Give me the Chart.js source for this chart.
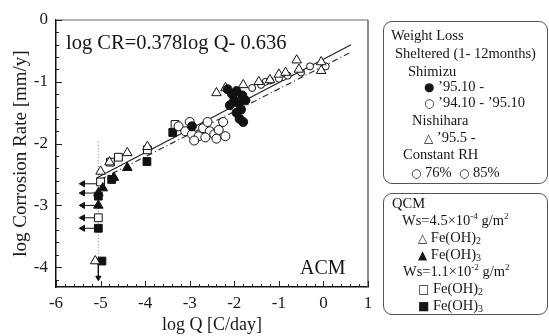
<!DOCTYPE html>
<html>
<head>
<meta charset="utf-8">
<script src="https://cdn.jsdelivr.net/npm/chart.js@4/dist/chart.umd.min.js"></script>
<style>
  html, body { margin: 0; padding: 0; background: #fff; }
  #wrap { position: relative; width: 549px; height: 336px; overflow: hidden; font-family: "Liberation Serif", serif; color: #15151c; }
  #c { position: absolute; left: 0; top: 0; }
  .t { position: absolute; white-space: nowrap; line-height: 1; transform: translateY(-50%); }
  .box { position: absolute; border: 1.5px solid #555; border-radius: 9px; box-sizing: border-box; }
  .lg { font-size: 14.5px; }
  .sym { font-family: "DejaVu Sans", sans-serif; font-size: 12px; }
  .sub { font-size: 10px; position: relative; top: 2px; }
  sup { font-size: 9px; line-height: 0; }
</style>
</head>
<body>
<div id="wrap">
  <canvas id="c" width="549" height="336"></canvas>

  <div class="t" style="left:66px; top:42px; font-size:20.5px;">log CR=0.378log Q- 0.636</div>
  <div class="t" style="left:300px; top:267px; font-size:20px;">ACM</div>

  <div class="box" style="left:383px; top:21px; width:165px; height:163px;"></div>
  <div class="t lg" style="left:391px; top:35px;">Weight Loss</div>
  <div class="t lg" style="left:395px; top:53px;">Sheltered (1- 12months)</div>
  <div class="t lg" style="left:408px; top:71px;">Shimizu</div>
  <div class="t lg" style="left:424px; top:86px;"><span class="sym">●</span> ’95.10 -</div>
  <div class="t lg" style="left:424px; top:102px;"><span class="sym">○</span> ’94.10 - ’95.10</div>
  <div class="t lg" style="left:412px; top:120px;">Nishihara</div>
  <div class="t lg" style="left:424px; top:137px;"><span class="sym">△</span> ’95.5 -</div>
  <div class="t lg" style="left:403px; top:154px;">Constant RH</div>
  <div class="t lg" style="left:411px; top:172px;"><span class="sym">○</span> 76% &nbsp;<span class="sym">○</span> 85%</div>

  <div class="box" style="left:383px; top:193px; width:165px; height:122px;"></div>
  <div class="t lg" style="left:392px; top:203px;">QCM</div>
  <div class="t lg" style="left:402px; top:220px;">Ws=4.5×10<sup>-4</sup> g/m<sup>2</sup></div>
  <div class="t lg" style="left:418px; top:237px;"><span class="sym">△</span> Fe(OH)<span class="sub">2</span></div>
  <div class="t lg" style="left:418px; top:254px;"><span class="sym">▲</span> Fe(OH)<span class="sub">3</span></div>
  <div class="t lg" style="left:403px; top:271px;">Ws=1.1×10<sup>-2</sup> g/m<sup>2</sup></div>
  <div class="t lg" style="left:418px; top:288px;"><span class="sym">□</span> Fe(OH)<span class="sub">2</span></div>
  <div class="t lg" style="left:418px; top:305px;"><span class="sym">■</span> Fe(OH)<span class="sub">3</span></div>
</div>

<script>
// axis ticks
const xTicks = [-6, -5, -4, -3, -2, -1, 0, 1];
const yTicks = [0, -1, -2, -3, -4];

// weight loss, Shimizu '95.10 - (filled circle)
const shimizuNew = [[-2.15,-1.12],[-2.05,-1.2],[-1.95,-1.15],[-2.0,-1.3],[-1.9,-1.35],[-1.85,-1.45],
  [-1.95,-1.5],[-1.88,-1.6],[-1.8,-1.65],[-2.1,-1.38],[-1.75,-1.3],[-1.82,-1.22],[-2.95,-1.72]];
// Shimizu '94.10 - '95.10 (open circle)
const shimizuOld = [[-3.25,-1.72],[-3.1,-1.8],[-2.95,-1.85],[-2.8,-1.88],[-2.7,-1.75],[-2.55,-1.8],
  [-2.45,-1.85],[-2.35,-1.78],[-2.25,-1.65],[-2.6,-1.65],[-3.0,-1.65],[-2.9,-1.95],[-2.65,-1.9],
  [-2.4,-1.92],[-2.2,-1.88]];
// Nishihara '95.5 - (open triangle)
const nishihara = [[-2.4,-1.18],[-2.2,-1.1],[-1.8,-1.05],[-1.45,-1.0],[-1.2,-0.97],[-1.0,-0.88],
  [-0.85,-0.85],[-0.6,-0.65],[-0.55,-0.8],[-0.05,-0.68],[-0.05,-0.82]];
// constant RH (small open circles along the line)
const rh76 = [[-1.6,-1.1],[-1.4,-1.05],[-1.2,-0.98],[-1.0,-0.95],[-0.8,-0.9]];
const rh85 = [[-1.3,-1.0],[-0.9,-0.92],[-0.5,-0.85],[-0.3,-0.75],[0.05,-0.75]];
// QCM Ws=4.5e-4
const qcmLowFe2 = [[-5.0,-2.45],[-4.8,-2.3],[-4.4,-2.15],[-3.95,-2.05],[-5.12,-3.9]];
const qcmLowFe3 = [[-4.95,-2.72],[-4.7,-2.55],[-4.4,-2.39],[-5.05,-3.0],[-5.05,-2.8]];
// QCM Ws=1.1e-2
const qcmHighFe2 = [[-5.05,-3.2],[-5.0,-2.62],[-4.78,-2.3],[-4.6,-2.22],[-3.95,-2.1],[-3.33,-1.69]];
const qcmHighFe3 = [[-5.05,-3.37],[-4.97,-3.9],[-4.75,-2.58],[-3.96,-2.29],[-3.38,-1.82],[-5.05,-2.85]];
// upper bound arrows (start x, y) pointing to tip x
const arrowY = [-2.65, -2.8, -3.0, -3.2, -3.37];
const arrowStartX = -5.05;
const arrowTipX = -5.4;
const downArrow = [[-5.05,-3.95],[-5.05,-4.17]];
// lines
const fitLine = [[-5.1,-2.56],[0.62,-0.40]];
const fitLine2 = [[-5.0,-2.58],[0.62,-0.52]];
const limitLine = [[-5.05,-1.97],[-5.05,-4.1]];

const pts = a => a.map(p => ({x: p[0], y: p[1]}));

const arrowData = [];
arrowY.forEach(y => {
  arrowData.push({x: arrowStartX, y: y}, {x: arrowTipX, y: y}, {x: arrowTipX, y: null});
});

function marker(data, style, filled, r) {
  return {
    data: pts(data), pointStyle: style, pointRadius: r,
    pointBackgroundColor: filled ? '#111' : '#fff',
    pointBorderColor: '#111', pointBorderWidth: 1, showLine: false
  };
}

const axisFrame = {
  id: 'axisFrame',
  beforeDatasetsDraw(chart) {
    const {ctx, chartArea: a, scales: {x, y}} = chart;
    ctx.save();
    ctx.strokeStyle = '#9a9a9a';
    ctx.lineWidth = 1.5;
    ctx.beginPath();
    ctx.moveTo(a.left, a.top);
    ctx.lineTo(a.right, a.top);
    ctx.stroke();
    ctx.strokeStyle = '#666';
    ctx.beginPath();
    ctx.moveTo(a.right, a.top);
    ctx.lineTo(a.right, a.bottom);
    ctx.stroke();
    ctx.strokeStyle = '#222';
    ctx.lineWidth = 1;
    ctx.beginPath();
    for (let i = 0; i <= 35; i++) {
      const px = Math.round(x.getPixelForValue(-6 + i * 0.2)) + 0.5;
      const len = i % 5 === 0 ? 6 : 3;
      ctx.moveTo(px, a.bottom);
      ctx.lineTo(px, a.bottom - len);
    }
    for (let i = 0; i <= 21; i++) {
      const py = Math.round(y.getPixelForValue(-i * 0.2)) + 0.5;
      const len = i % 5 === 0 ? 6 : 3;
      ctx.moveTo(a.left, py);
      ctx.lineTo(a.left + len, py);
    }
    ctx.stroke();
    ctx.restore();
  }
};

const tickFont = {family: 'Liberation Serif', size: 17};

new Chart(document.getElementById('c'), {
  type: 'scatter',
  data: {
    datasets: [
      marker(shimizuNew, 'circle', true, 4.5),
      marker(shimizuOld, 'circle', false, 4.5),
      marker(nishihara, 'triangle', false, 5.5),
      marker(rh76, 'circle', false, 3.5),
      marker(rh85, 'circle', false, 3.5),
      marker(qcmLowFe2, 'triangle', false, 5.5),
      marker(qcmLowFe3, 'triangle', true, 5.5),
      marker(qcmHighFe2, 'rect', false, 5.5),
      marker(qcmHighFe3, 'rect', true, 5.5),
      {
        data: arrowData, showLine: true, spanGaps: false,
        borderColor: '#111', borderWidth: 1,
        pointStyle: 'triangle', pointRotation: -90,
        pointRadius: ctx => ctx.dataIndex % 3 === 1 ? 3.5 : 0,
        pointBackgroundColor: '#111', pointBorderColor: '#111'
      },
      {
        data: pts(downArrow), showLine: true,
        borderColor: '#111', borderWidth: 1,
        pointStyle: 'triangle', pointRotation: 180,
        pointRadius: ctx => ctx.dataIndex === 1 ? 3 : 0,
        pointBackgroundColor: '#111', pointBorderColor: '#111'
      },
      {data: pts(fitLine), showLine: true, borderColor: '#222', borderWidth: 1.2, pointRadius: 0},
      {data: pts(fitLine2), showLine: true, borderColor: '#333', borderWidth: 1.2, borderDash: [6, 3, 1, 3], pointRadius: 0},
      {data: pts(limitLine), showLine: true, borderColor: '#777', borderWidth: 1, borderDash: [1, 2], pointRadius: 0}
    ]
  },
  options: {
    responsive: false,
    animation: false,
    layout: {padding: {left: 0, top: 20, right: 181, bottom: 0}},
    plugins: {legend: {display: false}, tooltip: {enabled: false}},
    scales: {
      x: {
        min: -6, max: 1,
        afterBuildTicks: s => { s.ticks = xTicks.map(v => ({value: v})); },
        afterFit: s => { s.height = 49; },
        grid: {display: false, drawTicks: false},
        border: {display: true, color: '#111', width: 1.5},
        ticks: {font: tickFont, color: '#1a1a1a', padding: 6, callback: v => String(v)},
        title: {display: true, text: 'log Q [C/day]', font: {family: 'Liberation Serif', size: 18}, color: '#1a1a1a', padding: {top: 0, bottom: 0}}
      },
      y: {
        min: -4.32, max: 0,
        afterBuildTicks: s => { s.ticks = yTicks.map(v => ({value: v})); },
        afterFit: s => { s.width = 56; },
        grid: {display: false, drawTicks: false},
        border: {display: true, color: '#111', width: 1.5},
        ticks: {font: tickFont, color: '#1a1a1a', padding: 8, callback: v => String(v)},
        title: {display: true, text: 'log Corrosion Rate [mm/y]', font: {family: 'Liberation Serif', size: 19}, color: '#1a1a1a', padding: {top: 10, bottom: 0}}
      }
    }
  },
  plugins: [axisFrame]
});
</script>
</body>
</html>
